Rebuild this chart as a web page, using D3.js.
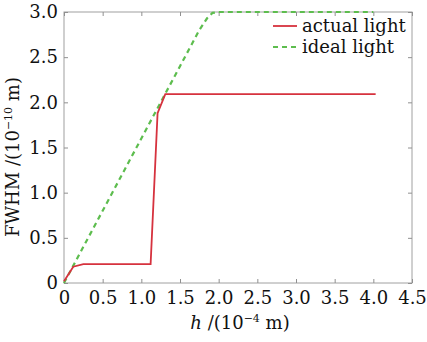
<!DOCTYPE html>
<html><head><meta charset="utf-8">
<script src="https://cdn.jsdelivr.net/npm/d3@7"></script>
<style>body{margin:0;background:#fff;} svg{display:block;} text{font-family:"DejaVu Serif","Liberation Serif",serif;}</style>
</head><body>
<svg id="c" width="427" height="342"></svg>
<script>
const actualX = [0, 0.12, 0.25, 0.4, 0.6, 0.8, 1.0, 1.12, 1.21, 1.31, 1.5, 2.0, 2.5, 3.0, 3.5, 4.03];
const actualY = [0.02, 0.18, 0.21, 0.21, 0.21, 0.21, 0.21, 0.21, 1.88, 2.09, 2.09, 2.09, 2.09, 2.09, 2.09, 2.09];
const idealX = [0, 0.5, 1.0, 1.5, 1.75, 1.85, 1.92, 2.0, 2.5, 3.0, 3.5, 4.0];
const idealY = [0, 0.8, 1.6, 2.4, 2.8, 2.93, 2.99, 3.0, 3.0, 3.0, 3.0, 3.0];
const xTicks = [0, 0.5, 1.0, 1.5, 2.0, 2.5, 3.0, 3.5, 4.0, 4.5];
const yTicks = [0, 0.5, 1.0, 1.5, 2.0, 2.5, 3.0];
const seriesNames = ["actual light", "ideal light"];

const svg = d3.select("#c");
const L = 64, R = 412, T = 12, B = 283;
const x = d3.scaleLinear().domain([0, 4.5]).range([L, R]);
const y = d3.scaleLinear().domain([0, 3]).range([B, T]);
const font = '"DejaVu Serif", "Liberation Serif", serif';
const fmt = d => d === 0 ? "0" : d3.format(".1f")(d);

svg.append("rect").attr("x", L).attr("y", T).attr("width", R - L).attr("height", B - T)
  .attr("fill", "none").attr("stroke", "#a0a0a0").attr("stroke-width", 1);

const axStyle = g => {
  g.attr("font-family", null);
  g.select(".domain").remove();
  g.selectAll(".tick line").attr("stroke", "#909090");
  g.selectAll(".tick text").style("font-family", font).style("font-size", "18px").attr("fill", "#111");
};
svg.append("g").attr("transform", `translate(0,${B})`)
  .call(d3.axisBottom(x).tickValues(xTicks).tickFormat(fmt).tickSizeInner(-4).tickPadding(8))
  .call(axStyle);
svg.append("g").attr("transform", `translate(${L},0)`)
  .call(d3.axisLeft(y).tickValues(yTicks).tickFormat(fmt).tickSizeInner(-4).tickPadding(6))
  .call(axStyle);
svg.append("g").attr("transform", `translate(0,${T})`)
  .call(d3.axisTop(x).tickValues(xTicks).tickFormat("").tickSizeInner(-4))
  .call(axStyle);
svg.append("g").attr("transform", `translate(${R},0)`)
  .call(d3.axisRight(y).tickValues(yTicks).tickFormat("").tickSizeInner(-4))
  .call(axStyle);

const line = d3.line().x(d => x(d[0])).y(d => y(d[1]));
const ideal = idealX.map((v, i) => [v, idealY[i]]);
const actual = actualX.map((v, i) => [v, actualY[i]]);
const red = "#d6323e", green = "#5dbd4e";

svg.append("path").datum(ideal).attr("d", line).attr("fill", "none")
  .attr("stroke", green).attr("stroke-width", 2.2).attr("stroke-dasharray", "5,4");
svg.append("path").datum(actual).attr("d", line).attr("fill", "none")
  .attr("stroke", red).attr("stroke-width", 1.8);

const lg = svg.append("g");
[[red, null, 26], [green, "5,4", 47]].forEach((s, i) => {
  lg.append("line").attr("x1", 273).attr("x2", 297).attr("y1", s[2]).attr("y2", s[2])
    .attr("stroke", s[0]).attr("stroke-width", i ? 2.2 : 1.8)
    .attr("stroke-dasharray", s[1]);
  lg.append("text").attr("x", 302).attr("y", s[2] + 6).text(seriesNames[i])
    .style("font-family", font).style("font-size", "18px").attr("fill", "#111");
});

const xt = svg.append("text").attr("x", 240).attr("y", 329).attr("text-anchor", "middle")
  .style("font-family", font).style("font-size", "18px").attr("fill", "#111");
xt.append("tspan").attr("font-style", "italic").text("h");
xt.append("tspan").text(" /(10");
xt.append("tspan").style("font-size", "11px").attr("dy", -7).text("−4");
xt.append("tspan").attr("dy", 7).text(" m)");

const yt = svg.append("text").attr("transform", "translate(19,157) rotate(-90)").attr("text-anchor", "middle")
  .style("font-family", font).style("font-size", "18px").attr("fill", "#111");
yt.append("tspan").text("FWHM /(10");
yt.append("tspan").style("font-size", "11px").attr("dy", -7).text("−10");
yt.append("tspan").attr("dy", 7).text(" m)");
</script>
</body></html>
